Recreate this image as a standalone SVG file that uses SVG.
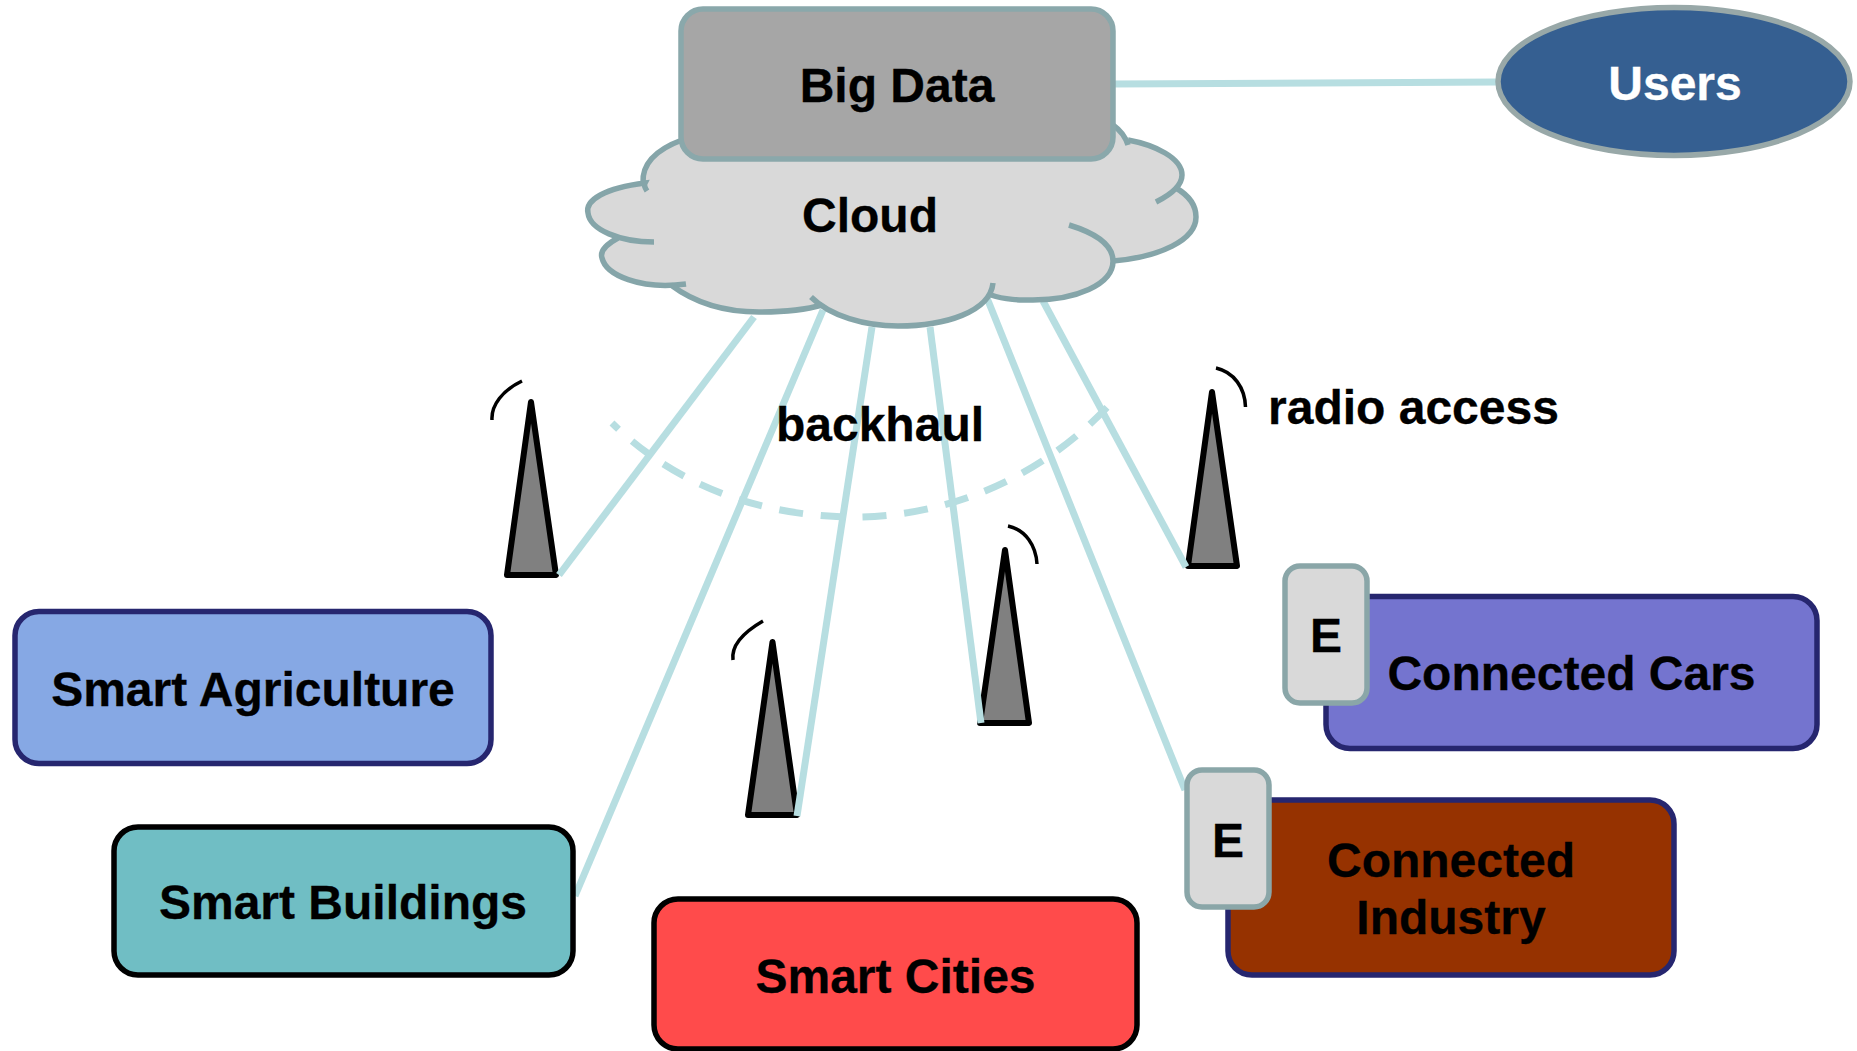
<svg xmlns="http://www.w3.org/2000/svg" width="1857" height="1051" viewBox="0 0 1857 1051">
<style>
text{font-family:"Liberation Sans",Arial,sans-serif;font-weight:700;font-size:48px;fill:#000;text-anchor:middle;stroke:#000;stroke-width:.3}
.link{fill:none;stroke:#b7dee1;stroke-width:7}
.dash{fill:none;stroke:#b7dee1;stroke-width:7;stroke-dasharray:9 18 21 17.800 24 17.800 24 17.800 24 17.800 24 17.800 24 17.800 24 17.800 24 17.800 24 17.800 24 17.800 24 17.800 24 17.800 24 17.800 30 17}
.mast{fill:#808080;stroke:#000;stroke-width:6;stroke-linejoin:round}
.wave{fill:none;stroke:#000;stroke-width:3.500}
.cl{fill:none;stroke:#85a5a9;stroke-width:5.500}
.box{stroke:#26266f;stroke-width:5.500}
.blk{stroke:#000;stroke-width:5.500}
.edge{fill:#d9d9d9;stroke:#8aa6a8;stroke-width:5.500}
</style>
<rect width="1857" height="1051" fill="#fff"/>
<g id="tower1"><path class="mast" d="M531,402L556,575H507Z"/><path class="wave" d="M522,381C503,390 491,405 492,420"/></g>
<g id="tower2"><path class="mast" d="M772.500,642L797,815H748Z"/><path class="wave" d="M763,621C744,632 731,645 733,660"/></g>
<g id="tower3"><path class="mast" d="M1005,550L1029,723H980Z"/><path class="wave" d="M1008,526C1026,530 1036,546 1037,564"/></g>
<g id="tower4"><path class="mast" d="M1212,392L1237,566H1188Z"/><path class="wave" d="M1216,368C1234,372 1245,388 1245.500,407"/></g>
<g id="connectors">
<path class="link" d="M754,317L559,575"/>
<path class="link" d="M823,310L575,896"/>
<path class="link" d="M872,327L797,816"/>
<path class="link" d="M930,327L981,723"/>
<path class="link" d="M987,298L1185,790"/>
<path class="link" d="M1043,301L1186,567"/>
<path class="link" d="M1114,84L1498,82"/>
<path class="dash" d="M612,423C680,490 770,518 860,517C960,515 1050,470 1112,402"/>
</g>
<g id="cloud">
<path d="M682,140C655,150 642,165 645,183C605,188 585,200 588,213C590,226 603,234 618,238C605,245 600,252 602,258C606,275 635,288 671,285C695,303 725,312 759,312C785,312 805,310 822,305C840,318 868,326 898,326C940,326 975,315 991,295C1005,300 1020,300 1033,300C1075,300 1113,285 1113,261C1160,257 1196,240 1196,217C1196,205 1188,195 1176,188C1182,180 1184,175 1182,170C1178,155 1155,145 1128,140C1125,135 1120,130 1113,125L700,125Z" fill="#d9d9d9"/>
<path class="cl" d="M682,140C655,150 642,165 643,183M647,191C645,188 644,185 645,183C605,188 585,200 588,213C590,230 620,242 654,242"/>
<path class="cl" d="M618,238C605,245 600,252 602,258C606,275 640,290 686,284"/>
<path class="cl" d="M671,285C695,303 725,312 759,312C785,312 805,310 822,305"/>
<path class="cl" d="M811,297C830,316 865,326 898,326C945,326 990,312 993,283"/>
<path class="cl" d="M991,295C1005,300 1020,300 1033,300C1075,300 1113,285 1113,261C1113,245 1095,233 1069,225"/>
<path class="cl" d="M1113,261C1160,257 1196,240 1196,217C1196,205 1188,195 1176,188"/>
<path class="cl" d="M1156,202C1172,194 1182,185 1182,175C1182,158 1155,145 1128,140"/>
<path class="cl" d="M1128,145C1125,135 1120,130 1113,125"/>
<text x="870" y="232">Cloud</text>
</g>
<g id="big-data"><rect x="681" y="9" width="432" height="150" rx="22" fill="#a6a6a6" stroke="#8aa8ab" stroke-width="5.500"/><text x="897" y="102">Big Data</text></g>
<g id="users"><ellipse cx="1674" cy="81.500" rx="176" ry="74" fill="#355f91" stroke="#98a8a8" stroke-width="5.500"/><text x="1675" y="100" style="fill:#fff;stroke:#fff">Users</text></g>
<g id="smart-agriculture"><rect class="box" x="15" y="611.500" width="476" height="152" rx="24" fill="#86a8e4"/><text x="253" y="706">Smart Agriculture</text></g>
<g id="smart-buildings"><rect class="blk" x="114" y="827" width="459" height="148" rx="24" fill="#70bec4"/><text x="343" y="919">Smart Buildings</text></g>
<g id="smart-cities"><rect class="blk" x="654" y="899" width="483" height="150" rx="24" fill="#ff4b4b"/><text x="895.500" y="993">Smart Cities</text></g>
<g id="connected-cars"><rect class="box" x="1326" y="596.500" width="491" height="152" rx="24" fill="#7474cf"/><text x="1571.500" y="690">Connected Cars</text></g>
<g id="edge-cars"><rect class="edge" x="1285" y="566" width="82" height="137" rx="15"/><text x="1326" y="652">E</text></g>
<g id="connected-industry"><rect class="box" x="1228" y="800" width="446" height="175" rx="24" fill="#963200"/><text x="1451" y="877">Connected</text><text x="1451" y="934">Industry</text></g>
<g id="edge-industry"><rect class="edge" x="1187" y="770" width="82" height="137" rx="15"/><text x="1228" y="857">E</text></g>
<g id="labels"><text x="880" y="441">backhaul</text><text x="1268" y="424" style="text-anchor:start">radio access</text></g>
</svg>
